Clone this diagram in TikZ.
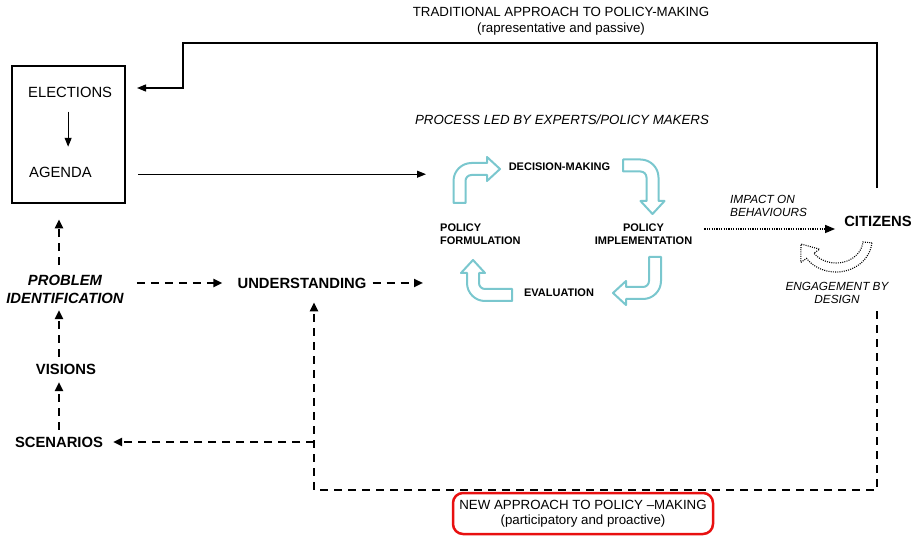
\documentclass[tikz,border=0pt]{standalone}
\usepackage{fontspec}
\setmainfont{Liberation Sans}
\usetikzlibrary{arrows.meta,calc}
\definecolor{cyc}{RGB}{122,199,206}
\definecolor{redb}{RGB}{232,16,16}
\newcommand{\bendarrow}[5]{%
 \begin{scope}[shift={(#1,#2)},rotate=#3]
 \draw[cycarrow] (-6,0) -- (-6,{-#4+12}) .. controls (-6,{-#4+2.06}) and (2.06,{-#4-6}) .. (12,{-#4-6})
   -- ({#5-13},{-#4-6}) -- ({#5-13},{-#4-12}) -- (#5,{-#4}) -- ({#5-13},{-#4+12}) -- ({#5-13},{-#4+6})
   -- (12,{-#4+6}) .. controls (8.69,{-#4+6}) and (6,{-#4+8.69}) .. (6,{-#4+12}) -- (6,0) -- cycle;
 \end{scope}}
\begin{document}
\begin{tikzpicture}[x=1pt,y=-1pt,
  big/.style={inner sep=0pt,font=\fontsize{14.8}{18}\selectfont\bfseries},
  plain/.style={inner sep=0pt,font=\fontsize{14.8}{18}\selectfont},
  title/.style={inner sep=0pt,font=\fontsize{13.3}{15}\selectfont},
  cyclbl/.style={inner sep=0pt,font=\fontsize{11}{12.5}\selectfont\bfseries},
  note/.style={inner sep=0pt,font=\fontsize{11.8}{13}\selectfont\itshape},
  cycarrow/.style={draw=cyc,line width=2pt,line join=round},
  arr/.style={line width=1.3pt,-{Triangle[length=9pt,width=7pt]}},
  darr/.style={line width=2.3pt,dash pattern=on 8pt off 6pt,-{Triangle[length=9pt,width=8pt]}},
  dotarr/.style={line width=1.4pt,dash pattern=on 1.2pt off 1.2pt,-{Triangle[length=10pt,width=8pt]}},
  dotband/.style={line width=1.1pt,dash pattern=on 1pt off 1.2pt}]
\useasboundingbox (0,0) rectangle (916,537);

% titles
\node[title,anchor=base] (trad) at (561,16.8) {TRADITIONAL APPROACH TO POLICY-MAKING};
\node[title,anchor=base] (rap) at (561,33) {(rapresentative and passive)};
\node[title,anchor=base,font=\fontsize{13.3}{15}\selectfont\itshape] (proc) at (562,124.8) {PROCESS LED BY EXPERTS/POLICY MAKERS};

% box
\node[draw,line width=2.6pt,minimum width=113pt,minimum height=137pt,inner sep=0pt] (box) at (68.5,134.5) {};
\node[plain,anchor=base west] (elec) at (28,97.3) {ELECTIONS};
\node[plain,anchor=base west] (agenda) at (29,177.3) {AGENDA};
\draw[arr,line width=1.1pt] ($(elec.south)+(-2,14)$) -- ($(elec.south |- agenda.north)+(-2,-20)$);

% cycle
\node[cyclbl] (dec) at (559.5,167) {DECISION-MAKING};
\node[cyclbl,anchor=west,align=left] (form) at (440,234) {POLICY\\FORMULATION};
\node[cyclbl,align=center] (impl) at (643.5,234) {POLICY\\IMPLEMENTATION};
\node[cyclbl] (eval) at (559,293) {EVALUATION};
\bendarrow{459.5}{203}{0}{34}{40.5}
\bendarrow{623}{165.5}{-90}{29.5}{48.5}
\bendarrow{655}{257}{180}{36}{42}
\bendarrow{512}{295}{90}{39}{35}

% citizens side
\node[big] (cit) at (878,221) {CITIZENS};
\node[note,anchor=west,align=left] (imp) at (730,206) {IMPACT ON\\BEHAVIOURS};
\node[note,align=center] (eng) at (837,292.5) {ENGAGEMENT BY\\DESIGN};
\draw[dotarr] ($(impl.east)+(12,-5)$) -- ($(cit.west)+(-9,8)$);
\draw[dotband] plot[domain=5:145,samples=40] ({836+36*cos(\x)},{240+32*sin(\x)})
  -- (800.8,262.4) -- (801,244) -- (819.6,249.2) -- (813.9,253.2)
  -- plot[domain=145:5,samples=40] ({836+27*cos(\x)},{240+23*sin(\x)}) -- cycle;

% left column
\node[big,align=center,font=\fontsize{14.8}{18}\selectfont\bfseries\itshape] (prob) at (65,289) {PROBLEM\\IDENTIFICATION};
\node[big] (vis) at (66,369) {VISIONS};
\node[big] (scen) at (59,442) {SCENARIOS};
\node[big] (und) at (302,283) {UNDERSTANDING};
\coordinate (vx) at (59,0);

% traditional loop
\coordinate (tl) at (183,43);
\coordinate (te) at (137,88);
\draw[arr] ($(cit.north)+(-1,-27.5)$) |- (tl) |- (te);

% agenda to cycle
\draw[arr,line width=1.1pt] ($(box.east |- agenda)+(12,2)$) -- ($(form.west |- agenda)+(-14,2)$);

% dashed arrows
\draw[darr] ($(vx |- prob.north)+(0,-9.5)$) -- ($(vx |- box.south)+(0,15)$);
\draw[darr] ($(vx |- vis.north)+(0,-6.7)$) -- ($(vx |- prob.south)+(0,6.7)$);
\draw[darr] ($(vx |- scen.north)+(0,-6.7)$) -- ($(vx |- vis.south)+(0,7.7)$);
\draw[darr] ($(prob.east |- und)+(13,0)$) -- ($(und.west)+(-15,0)$);
\draw[darr] ($(und.east)+(6,0)$) -- ($(form.west |- und)+(-17,0)$);
\coordinate (bl) at (314,490);
\draw[darr] ($(cit.south |- eng.south)+(-1,8)$) |- (bl) -- ($(und.south -| bl)+(0,14)$);
\draw[darr] (bl |- scen) -- ($(scen.east)+(10,0)$);

% new approach box
\node[draw=redb,line width=2.5pt,rounded corners=10pt,minimum width=260pt,minimum height=41pt,
  align=center,inner sep=0pt,font=\fontsize{13.3}{15}\selectfont] (newap) at (583,513.5)
  {NEW APPROACH TO POLICY \textendash MAKING\\(participatory and proactive)};
\end{tikzpicture}
\end{document}
